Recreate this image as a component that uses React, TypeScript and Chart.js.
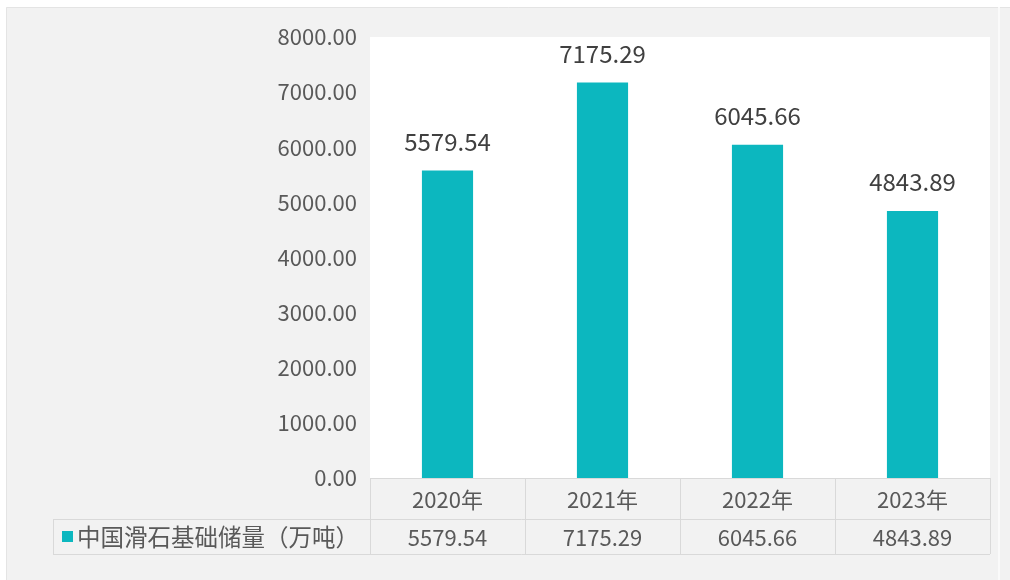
import React, { useEffect, useRef } from "react";
import { Chart, registerables } from "chart.js";

Chart.register(...registerables);

const categories = ["2020年", "2021年", "2022年", "2023年"];
const seriesName = "中国滑石基础储量（万吨）";
const values = [5579.54, 7175.29, 6045.66, 4843.89];
const yTicks = [0, 1000, 2000, 3000, 4000, 5000, 6000, 7000, 8000];

const TEAL = "#0CB7BF";
const CJK = "'Noto Sans CJK SC', sans-serif";

const decorPlugin = {
  id: "decor",
  beforeDraw(chart: any) {
    const { ctx, chartArea } = chart;
    ctx.save();
    ctx.fillStyle = "#ffffff";
    ctx.fillRect(0, 0, chart.width, chart.height);
    ctx.fillStyle = "#f2f2f2";
    ctx.fillRect(6, 7, chart.width - 6, chart.height - 7);
    ctx.strokeStyle = "#e4e4e4";
    ctx.lineWidth = 1;
    ctx.beginPath();
    ctx.moveTo(6.5, chart.height);
    ctx.lineTo(6.5, 7.5);
    ctx.lineTo(chart.width, 7.5);
    ctx.stroke();
    ctx.strokeStyle = "#fafafa";
    ctx.lineWidth = 2;
    ctx.beginPath();
    ctx.moveTo(999, 7);
    ctx.lineTo(999, chart.height);
    ctx.stroke();
    ctx.fillStyle = "#ffffff";
    ctx.fillRect(chartArea.left, chartArea.top, chartArea.right - chartArea.left, chartArea.bottom - chartArea.top);
    ctx.restore();
  },
  afterDraw(chart: any) {
    const { ctx, chartArea } = chart;
    const xs = chart.scales.x;
    const meta = chart.getDatasetMeta(0);
    ctx.save();
    // data labels
    ctx.fillStyle = "#404040";
    ctx.font = `24px ${CJK}`;
    ctx.textAlign = "center";
    ctx.textBaseline = "middle";
    meta.data.forEach((bar: any, i: number) => {
      ctx.fillText(values[i].toFixed(2), bar.x, bar.y - 29);
    });
    // table
    const top = chartArea.bottom;
    const mid = top + 41;
    const bot = top + 76;
    const n = categories.length;
    const colW = (chartArea.right - chartArea.left) / n;
    const edges: number[] = [];
    for (let i = 0; i <= n; i++) edges.push(xs.getPixelForValue(i) - colW / 2);
    edges[n] = xs.getPixelForValue(n - 1) + colW / 2;
    ctx.strokeStyle = "#d9d9d9";
    ctx.lineWidth = 1;
    ctx.beginPath();
    const legendLeft = 53;
    ctx.moveTo(edges[0], top + 0.5);
    ctx.lineTo(edges[n], top + 0.5);
    ctx.moveTo(legendLeft, mid + 0.5);
    ctx.lineTo(edges[n], mid + 0.5);
    ctx.moveTo(legendLeft, bot + 0.5);
    ctx.lineTo(edges[n], bot + 0.5);
    ctx.moveTo(legendLeft + 0.5, mid);
    ctx.lineTo(legendLeft + 0.5, bot);
    edges.forEach((e) => {
      ctx.moveTo(Math.round(e) + 0.5, top);
      ctx.lineTo(Math.round(e) + 0.5, bot);
    });
    ctx.stroke();
    ctx.fillStyle = "#595959";
    ctx.font = `22px ${CJK}`;
    categories.forEach((c, i) => {
      ctx.fillText(c, xs.getPixelForValue(i), (top + mid) / 2 + 1);
    });
    values.forEach((v, i) => {
      ctx.fillText(v.toFixed(2), xs.getPixelForValue(i), (mid + bot) / 2 + 1);
    });
    // legend key
    ctx.fillStyle = TEAL;
    ctx.fillRect(62, 531, 11, 11);
    ctx.fillStyle = "#595959";
    ctx.font = `23.5px ${CJK}`;
    ctx.textAlign = "left";
    ctx.fillText(seriesName, 77, (mid + bot) / 2 + 1);
    ctx.restore();
  },
};

export default function App() {
  const ref = useRef<HTMLCanvasElement>(null);
  useEffect(() => {
    const chart = new Chart(ref.current!, {
      type: "bar",
      data: {
        labels: categories,
        datasets: [
          {
            label: seriesName,
            data: values,
            backgroundColor: TEAL,
            barPercentage: 0.33,
            categoryPercentage: 1,
          },
        ],
      },
      options: {
        animation: false,
        responsive: false,
        layout: { padding: { left: 0, top: 37, right: 20, bottom: 102 } },
        plugins: { legend: { display: false }, tooltip: { enabled: false } },
        scales: {
          x: { display: false },
          y: {
            min: 0,
            max: 8000,
            afterFit(scale: any) {
              scale.width = 370;
            },
            afterBuildTicks(scale: any) {
              scale.ticks = yTicks.map((v) => ({ value: v }));
            },
            border: { display: false },
            grid: { display: false, drawTicks: false },
            ticks: {
              padding: 13,
              color: "#595959",
              font: { size: 22, family: CJK },
              callback: (v: any) => Number(v).toFixed(2),
            },
          },
        },
      },
      plugins: [decorPlugin],
    });
    return () => chart.destroy();
  }, []);
  return (
    <div style={{ position: "fixed", left: 0, top: 0, width: 1010, height: 580, background: "#fff" }}>
      <canvas ref={ref} width={1010} height={580} style={{ width: 1010, height: 580, display: "block" }} />
    </div>
  );
}
